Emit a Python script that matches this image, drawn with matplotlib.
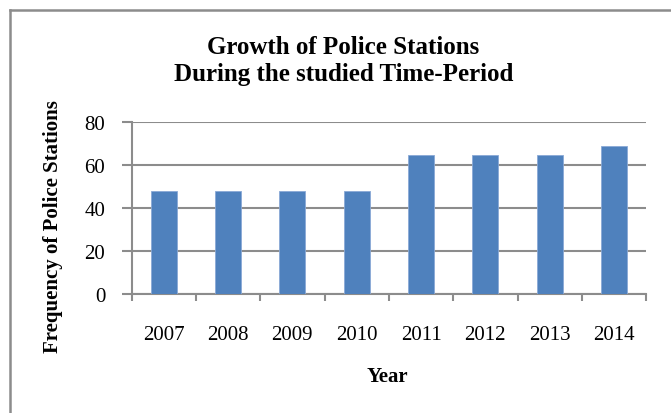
import matplotlib
matplotlib.use("Agg")
import matplotlib.pyplot as plt
from matplotlib.lines import Line2D
import numpy as np

# values
years = ['2007', '2008', '2009', '2010', '2011', '2012', '2013', '2014']
stations = [48, 48, 48, 48, 65, 65, 65, 69]
y_ticks = [0, 20, 40, 60, 80]

plt.rcParams['font.family'] = ['Liberation Serif', 'DejaVu Serif']

grey = '#8c8c8c'
bar_color = '#4f81bd'

fig = plt.figure(figsize=(6.71, 4.14), dpi=100)
ax = fig.add_axes([0.196, 0.2874, 0.767, 0.4146])

x = np.arange(len(years))
ax.bar(x, stations, width=0.4, color=bar_color, edgecolor='#8aa9d6', linewidth=0.6, zorder=3)

ax.set_xlim(-0.5, len(years) - 0.5)
ax.set_ylim(0, 80)
ax.set_yticks(y_ticks)
ax.yaxis.grid(True, color=grey, linewidth=1.5, zorder=0)

# category labels at centres, tick marks between categories
ax.set_xticks(x)
ax.set_xticklabels(years, fontsize=15)
ax.set_xticks(np.arange(-0.5, len(years)), minor=True)
ax.tick_params(axis='x', which='major', length=0, pad=22)
ax.tick_params(axis='x', which='minor', length=5, width=1.5, color=grey, direction='out')
ax.tick_params(axis='y', length=7, width=1.5, color=grey, direction='out', pad=12, labelsize=15)

for s in ['top', 'right']:
    ax.spines[s].set_visible(False)
for s in ['left', 'bottom']:
    ax.spines[s].set_color(grey)
    ax.spines[s].set_linewidth(1.5)

fig.text(0.512, 0.853, 'Growth of Police Stations\nDuring the studied Time-Period',
         ha='center', va='center', fontsize=18, fontweight='bold', linespacing=1.2)
fig.text(0.578, 0.089, 'Year', ha='center', va='center', fontsize=15, fontweight='bold')
fig.text(0.079, 0.453, 'Frequency of Police Stations', rotation=90,
         ha='center', va='center', fontsize=15, fontweight='bold')

# chart area border (only top and left visible in the reference)
fig.add_artist(Line2D([0.015, 1.0], [1 - 11 / 414, 1 - 11 / 414], color=grey, linewidth=1.8,
                      transform=fig.transFigure))
fig.add_artist(Line2D([10 / 671, 10 / 671], [0.0, 1 - 11 / 414], color=grey, linewidth=1.8,
                      transform=fig.transFigure))

fig.savefig('out.png', dpi=100)
